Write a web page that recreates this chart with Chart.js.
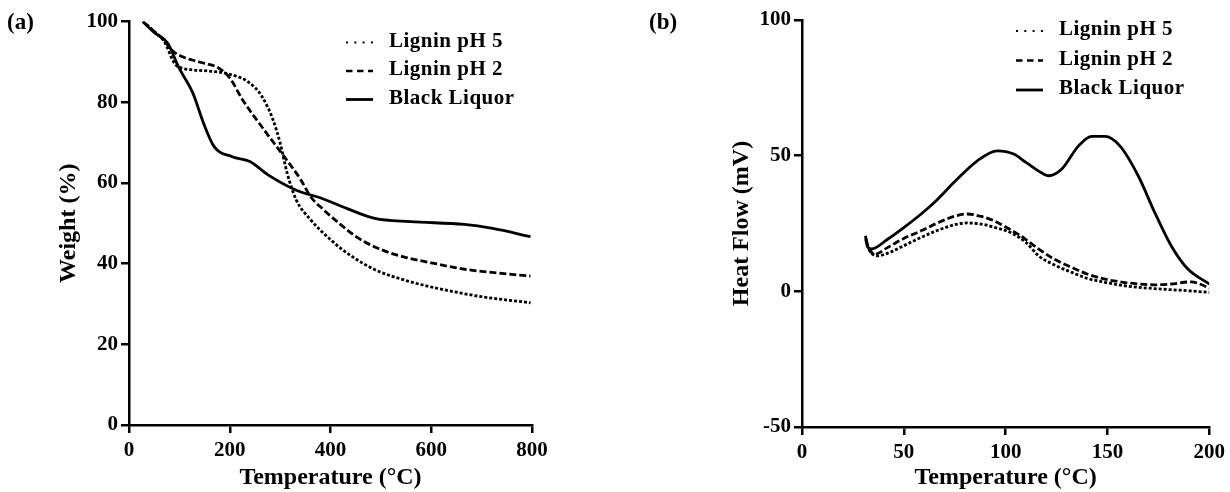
<!DOCTYPE html>
<html>
<head>
<meta charset="utf-8">
<script src="https://cdn.jsdelivr.net/npm/chart.js@4.4.0/dist/chart.umd.min.js"></script>
<style>
  body { margin: 0; background: #fff; }
  .panel { position: absolute; top: 0; width: 615px; height: 492px; }
</style>
</head>
<body>
<div class="panel" style="left:0"><canvas id="tgaChart" width="615" height="492"></canvas></div>
<div class="panel" style="left:615px"><canvas id="dscChart" width="615" height="492"></canvas></div>
<script>
// ---- data ----
const seriesLabels = ['Lignin pH 5', 'Lignin pH 2', 'Black Liquor'];

// (a) TGA: temperature (°C) / weight (%)
const tgaPh5Temp   = [27.5, 50, 70, 91, 110, 127, 169, 197, 236, 264, 286, 300, 314, 332, 361, 404, 440, 488, 550, 600, 700, 797];
const tgaPh5Weight = [100, 97.5, 95, 89.5, 88.3, 88.0, 87.6, 87.0, 85.1, 81.4, 75.6, 69.9, 62.4, 55.8, 50.8, 45.5, 42, 38.5, 35.8, 34.2, 31.8, 30.3];
const tgaPh2Temp   = [27.5, 50, 70, 84, 105, 127, 150, 176, 200, 226, 269, 311, 340, 361, 385, 417, 453, 500, 550, 600, 666, 730, 797];
const tgaPh2Weight = [100, 97.5, 95.3, 93, 91.3, 90.4, 89.6, 88.6, 86, 80.5, 73, 66, 61, 56.5, 53.5, 50, 46.5, 43.5, 41.5, 40.2, 38.6, 37.7, 36.9];
const tgaBlTemp    = [27.5, 50, 77, 98, 127, 148, 169, 205, 240, 276, 332, 382, 432, 488, 559, 666, 722, 797];
const tgaBlWeight  = [100, 97.3, 94.6, 88.8, 82.2, 74.8, 69.0, 66.5, 65.3, 62.0, 58.2, 56.2, 53.7, 51.2, 50.4, 49.7, 48.7, 46.7];

// (b) DSC: temperature (°C) / heat flow (mV)
const dscPh5Temp = [31.4, 32.8, 34.5, 37.3, 42.2, 50, 58.5, 66, 74.7, 81.2, 88, 94.3, 102.4, 110, 116.2, 124, 132.5, 140, 148.8, 157, 165.1, 173, 181.3, 190, 200.1];
const dscPh5Flow = [19.0, 15.5, 13.8, 13.1, 14.1, 16.8, 19.9, 22.3, 24.5, 25.2, 24.8, 23.6, 21.7, 18.0, 13.1, 9.7, 7.0, 4.8, 3.3, 2.2, 1.5, 1.0, 0.6, 0.2, -0.4];
const dscPh2Temp = [31.4, 32.5, 34.0, 35.7, 42.2, 50, 58.5, 66, 74.7, 81.2, 88, 94.3, 100.5, 107.3, 116.2, 124, 132.5, 140, 148.8, 157, 165.1, 173, 181.3, 191.1, 196, 200.1];
const dscPh2Flow = [19.5, 16.5, 14.5, 13.7, 16.2, 19.5, 22.3, 25, 27.6, 28.5, 27.6, 26.0, 23.5, 20.5, 15.6, 11.8, 8.8, 6.4, 4.5, 3.4, 2.7, 2.4, 2.7, 3.5, 2.5, 1.1];
const dscBlTemp  = [31.2, 31.6, 32.4, 34.0, 42.2, 50, 58.5, 66, 74.7, 86.1, 95.9, 104.0, 110, 118.7, 121.1, 127.6, 135.8, 142.3, 148.8, 156.1, 165.1, 173.2, 181.3, 189.5, 200.1];
const dscBlFlow  = [20.5, 18, 16.2, 15.6, 19.3, 23.5, 28.5, 33.5, 40.2, 48.1, 51.8, 50.6, 47.5, 43.2, 42.6, 45.1, 53.6, 57.1, 57.1, 53.6, 42.6, 29.1, 16.8, 8.2, 2.7];

// axis ticks
const tgaXTicks = [0, 200, 400, 600, 800];
const tgaYTicks = [0, 20, 40, 60, 80, 100];
const dscXTicks = [0, 50, 100, 150, 200];
const dscYTicks = [-50, 0, 50, 100];

// ---- styles ----
const FONT = '"Liberation Serif", "Times New Roman", serif';
const lineDashes   = [[3, 2], [7, 3], []];
const legendDashes = [[2, 6.3], [6.5, 4.5], []];
const legendWidths = [2, 2.5, 2.8];

Chart.defaults.font.family = FONT;
Chart.defaults.color = '#000';

function toPoints(xs, ys) {
    return xs.map(function(x, i) { return { x: x, y: ys[i] }; });
}

function makeDatasets(series) {
    return series.map(function(s, i) {
        return {
            label: seriesLabels[i],
            data: toPoints(s[0], s[1]),
            borderColor: '#000',
            borderWidth: 2.8,
            borderDash: lineDashes[i],
            pointRadius: 0,
            fill: false,
            cubicInterpolationMode: 'monotone'
        };
    });
}

// legend and panel letter, drawn on top of the chart
const panelDecor = {
    id: 'panelDecor',
    afterDraw: function(chart, args, opts) {
        const ctx = chart.ctx;
        ctx.save();
        ctx.fillStyle = '#000';
        ctx.strokeStyle = '#000';
        ctx.textBaseline = 'middle';
        ctx.font = 'bold 23px ' + FONT;
        ctx.fillText(opts.tag, opts.tagX, opts.tagY);

        ctx.font = 'bold 21px ' + FONT;
        if ('letterSpacing' in ctx) ctx.letterSpacing = '0.5px';
        chart.data.datasets.forEach(function(ds, i) {
            const y = opts.legendY + i * opts.legendGap;
            ctx.beginPath();
            ctx.lineWidth = legendWidths[i];
            ctx.setLineDash(legendDashes[i]);
            ctx.moveTo(opts.legendX, y + 1);
            ctx.lineTo(opts.legendX + 27, y + 1);
            ctx.stroke();
            ctx.setLineDash([]);
            ctx.fillText(ds.label, opts.legendX + 43, y);
        });
        ctx.restore();
    }
};

function axisStyle(extra) {
    return Object.assign({
        type: 'linear',
        grid: { drawOnChartArea: false, drawTicks: true, tickLength: 8, color: '#000', lineWidth: 2.5 },
        border: { color: '#000', width: 2.5 }
    }, extra);
}

function makePanel(id, p) {
    const ctx = document.getElementById(id).getContext('2d');
    return new Chart(ctx, {
        type: 'line',
        data: { datasets: makeDatasets(p.series) },
        options: {
            responsive: false,
            animation: false,
            layout: { padding: p.padding },
            plugins: {
                legend: { display: false },
                tooltip: { enabled: false },
                panelDecor: p.decor
            },
            scales: {
                x: axisStyle({
                    min: p.xTicks[0],
                    max: p.xTicks[p.xTicks.length - 1],
                    afterBuildTicks: function(scale) {
                        scale.ticks = p.xTicks.map(function(v) { return { value: v }; });
                    },
                    ticks: { font: { size: 21, weight: 'bold' }, color: '#000', padding: 5, maxRotation: 0, autoSkip: false },
                    title: {
                        display: true, text: 'Temperature (°C)', color: '#000',
                        font: { size: 24, weight: 'bold' }, padding: { top: 0, bottom: 0 }
                    },
                    afterFit: function(scale) { scale.height = p.xHeight; }
                }),
                y: axisStyle({
                    min: p.yTicks[0],
                    max: p.yTicks[p.yTicks.length - 1],
                    afterBuildTicks: function(scale) {
                        scale.ticks = p.yTicks.map(function(v) { return { value: v }; });
                    },
                    ticks: { font: { size: 21, weight: 'bold' }, color: '#000', padding: 3, autoSkip: false },
                    title: {
                        display: true, text: p.yTitle, color: '#000',
                        font: { size: 24, weight: 'bold' }, padding: { top: p.yTitlePad, bottom: 0 }
                    },
                    afterFit: function(scale) { scale.width = p.yWidth; }
                })
            }
        },
        plugins: [panelDecor]
    });
}

makePanel('tgaChart', {
    series: [[tgaPh5Temp, tgaPh5Weight], [tgaPh2Temp, tgaPh2Weight], [tgaBlTemp, tgaBlWeight]],
    xTicks: tgaXTicks, yTicks: tgaYTicks,
    yTitle: 'Weight (%)', yTitlePad: 54,
    padding: { left: 0, top: 21.5, right: 83, bottom: 0 },
    yWidth: 129, xHeight: 67,
    decor: { tag: '(a)', tagX: 7, tagY: 23, legendX: 346, legendY: 41.5, legendGap: 28.5 }
});

makePanel('dscChart', {
    series: [[dscPh5Temp, dscPh5Flow], [dscPh2Temp, dscPh2Flow], [dscBlTemp, dscBlFlow]],
    xTicks: dscXTicks, yTicks: dscYTicks,
    yTitle: 'Heat Flow (mV)', yTitlePad: 112.2,
    padding: { left: 0, top: 20, right: 18.5, bottom: 0 },
    yWidth: 187, xHeight: 65,
    decor: { tag: '(b)', tagX: 34, tagY: 23, legendX: 401, legendY: 30, legendGap: 29.5 }
});
</script>
</body>
</html>
